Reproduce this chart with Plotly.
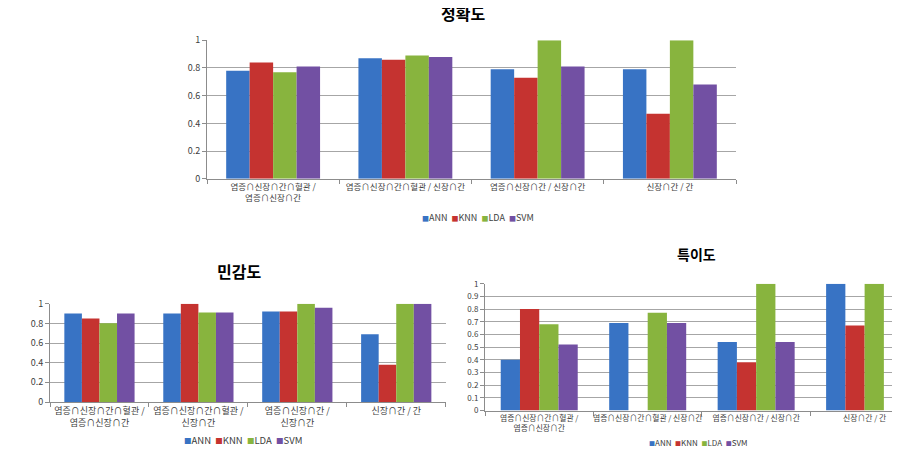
import plotly.graph_objects as go

series = ["ANN", "KNN", "LDA", "SVM"]
colors = ["#3873C4", "#C53330", "#88B43E", "#7250A3"]

cats_acc = ["염증∩신장∩간∩혈관 /<br>염증∩신장∩간", "염증∩신장∩간∩혈관 / 신장∩간",
            "염증∩신장∩간 / 신장∩간", "신장∩간 / 간"]
cats_sens = ["염증∩신장∩간∩혈관 /<br>염증∩신장∩간", "염증∩신장∩간∩혈관 /<br>신장∩간",
             "염증∩신장∩간 /<br>신장∩간", "신장∩간 / 간"]
cats_spec = ["염증∩신장∩간∩혈관 /<br>염증∩신장∩간", "염증∩신장∩간∩혈관 / 신장∩간",
             "염증∩신장∩간 / 신장∩간", "신장∩간 / 간"]

acc_ann = [0.78, 0.87, 0.79, 0.79]
acc_knn = [0.84, 0.86, 0.73, 0.47]
acc_lda = [0.77, 0.89, 1.00, 1.00]
acc_svm = [0.81, 0.88, 0.81, 0.68]

sens_ann = [0.90, 0.90, 0.92, 0.69]
sens_knn = [0.85, 1.00, 0.92, 0.38]
sens_lda = [0.80, 0.91, 1.00, 1.00]
sens_svm = [0.90, 0.91, 0.96, 1.00]

spec_ann = [0.40, 0.69, 0.54, 1.00]
spec_knn = [0.80, None, 0.38, 0.67]
spec_lda = [0.68, 0.77, 1.00, 1.00]
spec_svm = [0.52, 0.69, 0.54, None]

titles = ["정확도", "민감도", "특이도"]

FONT = "Noto Sans CJK KR"
charts = [
    dict(cats=cats_acc, vals=[acc_ann, acc_knn, acc_lda, acc_svm], xa="x", ya="y"),
    dict(cats=cats_sens, vals=[sens_ann, sens_knn, sens_lda, sens_svm], xa="x2", ya="y2"),
    dict(cats=cats_spec, vals=[spec_ann, spec_knn, spec_lda, spec_svm], xa="x3", ya="y3"),
]

fig = go.Figure()
for ch in charts:
    for name, col, v in zip(series, colors, ch["vals"]):
        fig.add_trace(go.Bar(x=ch["cats"], y=v, name=name, marker=dict(color=col, line=dict(width=0)),
                             xaxis=ch["xa"], yaxis=ch["ya"], showlegend=False))

grid = "#a6a6a6"
axcol = "#8c8c8c"

def xax(domain, anchor, size, rng):
    return dict(domain=domain, anchor=anchor, type="category", range=rng, tickangle=0,
                showline=True, linecolor=axcol, linewidth=1, ticks="outside", tickson="boundaries",
                ticklen=4, tickcolor=axcol, showgrid=False, automargin=False,
                tickfont=dict(family=FONT, size=size, color="#404040"))

def yax(domain, anchor, dtick, size):
    return dict(domain=domain, anchor=anchor, range=[0, 1.0001], dtick=dtick, tick0=0,
                showline=True, linecolor=axcol, linewidth=1, ticks="outside", ticklen=4, tickcolor=axcol,
                showgrid=True, gridcolor=grid, gridwidth=1, zeroline=False, automargin=False,
                tickfont=dict(family=FONT, size=size, color="#404040"))

fig.update_layout(
    width=900, height=453, margin=dict(l=0, r=0, t=0, b=0),
    paper_bgcolor="white", plot_bgcolor="white",
    barmode="group", bargap=0.29, bargroupgap=0,
    font=dict(family=FONT),
    xaxis=xax([199/900, 728/900], "y", 8.5, [-0.5, 3.5]),
    yaxis=yax([1-170.7/453, 1-32.3/453], "x", 0.2, 9),
    xaxis2=xax([42/900, 437.7/900], "y2", 9, [-0.5, 3.5]),
    yaxis2=yax([1-394/453, 1-295.7/453], "x2", 0.2, 9),
    xaxis3=xax([477/900, 1.0], "y3", 7.8, [-0.5, 3.4]),
    yaxis3=yax([1-402.5/453, 1-275.7/453], "x3", 0.1, 8),
)

def legend_text(size):
    parts = []
    for name, col in zip(series, colors):
        parts.append(f"<span style='color:{col};font-size:{size-2}px'>■</span>{name}")
    return "  ".join(parts)

shift = 9
fig.add_annotation(text=f"<b>{titles[0]}</b>", x=455/900, y=1.0, xref="paper", yref="paper",
                   xanchor="center", yanchor="top", showarrow=False, yshift=9,
                   font=dict(family=FONT, size=16, color="black"))
annos = [
    dict(text=f"<b>{titles[1]}</b>", x=231/900, y=1-(272-shift)/453, size=16),
    dict(text=f"<b>{titles[2]}</b>", x=688/900, y=1-(255-shift)/453, size=14),
]
for a in annos:
    fig.add_annotation(text=a["text"], x=a["x"], y=a["y"], xref="paper", yref="paper",
                       xanchor="center", yanchor="middle", showarrow=False,
                       font=dict(family=FONT, size=a["size"], color="black"))

for x, y, s in [(470/900, 1-(219-shift)/453, 9), (235/900, 1-(441-shift)/453, 9.5),
                (690/900, 1-(443-shift)/453, 8)]:
    fig.add_annotation(text=legend_text(s), x=x, y=y, xref="paper", yref="paper",
                       xanchor="center", yanchor="middle", showarrow=False,
                       font=dict(family=FONT, size=s, color="#404040"))

fig.write_html("out.html")
